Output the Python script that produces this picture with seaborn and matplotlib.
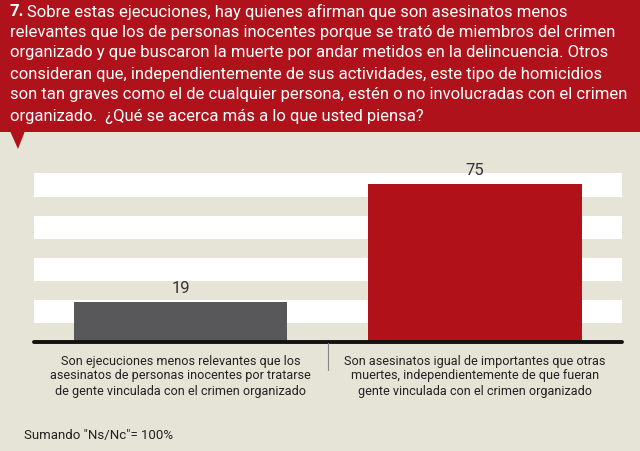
import seaborn as sns
import matplotlib.pyplot as plt
from matplotlib.patches import Rectangle, Polygon

categorias = [
    "Son ejecuciones menos relevantes que los\nasesinatos de personas inocentes por tratarse\nde gente vinculada con el crimen organizado",
    "Son asesinatos igual de importantes que otras\nmuertes, independientemente de que fueran\ngente vinculada con el crimen organizado",
]
valores = [19, 75]
colores = ["#58585a", "#b1121a"]

titulo = [
    "Sobre estas ejecuciones, hay quienes afirman que son asesinatos menos",
    "relevantes que los de personas inocentes porque se trató de miembros del crimen",
    "organizado y que buscaron la muerte por andar metidos en la delincuencia. Otros",
    "consideran que, independientemente de sus actividades, este tipo de homicidios",
    "son tan graves como el de cualquier persona, estén o no involucradas con el crimen",
    "organizado.  ¿Qué se acerca más a lo que usted piensa?",
]
nota = 'Sumando "Ns/Nc"= 100%'

sns.set_style("white")
plt.rcParams["font.family"] = ["Roboto", "DejaVu Sans"]

fondo = "#e6e3d7"
W, H = 640, 451
fig = plt.figure(figsize=(6.4, 4.51), dpi=100, facecolor=fondo)
renderer = fig.canvas.get_renderer()


def ancho(t):
    return t.get_window_extent(renderer).width


# encabezado rojo con pico
fig.patches.append(Rectangle((0, 1 - 132 / H), 1, 132 / H, transform=fig.transFigure,
                             facecolor="#b0121b", edgecolor="none", zorder=0))
fig.patches.append(Polygon([(10 / W, 1 - 131 / H), (25 / W, 1 - 131 / H), (18 / W, 1 - 149 / H)],
                           closed=True, transform=fig.transFigure,
                           facecolor="#b0121b", edgecolor="none", zorder=0))

ys = [12, 33, 53, 74, 95, 116]
lineas = [fig.text(10 / W, 1 - y / H, l, color="white", fontsize=12, va="center")
          for l, y in zip(titulo, ys)]
fs = 12 * 618 / max(ancho(t) for t in lineas[1:])
for t in lineas:
    t.set_fontsize(fs)
num = fig.text(10 / W, 1 - ys[0] / H, "7.", color="white", fontsize=fs, fontweight="bold", va="center")
ext = num.get_window_extent(renderer)
lineas[0].set_x((ext.x1 + 3) / W)

ax = fig.add_axes([33.5 / W, (H - 342) / H, (622 - 33.5) / W, (342 - 173.4) / H])
ax.set_facecolor(fondo)
for lo, hi in [(9, 20), (29, 40), (49, 60), (69, 80)]:
    ax.axhspan(lo, hi, color="white", zorder=0, lw=0)

sns.barplot(x=[0, 1], y=valores, hue=[0, 1], palette=colores, width=0.725,
            legend=False, ax=ax, zorder=2, saturation=1, edgecolor="none", linewidth=0)
for i, v in enumerate(valores):
    ax.text(i, v + 3, str(v), ha="center", va="bottom", fontsize=12, color="#333333")

ax.set_xlim(-0.5, 1.5)
ax.set_ylim(0, 80)
ax.set_xticks([])
ax.set_yticks([])
ax.set_xlabel("")
ax.set_ylabel("")
for s in ax.spines.values():
    s.set_visible(False)
ax.axhline(0, color="#111111", lw=2.8, zorder=3, clip_on=False)

# separador y etiquetas
fig.add_artist(plt.Line2D([328 / W, 328 / W], [1 - 343 / H, 1 - 370 / H], color="#888888", lw=0.8))
etiquetas = []
for i, cat in enumerate(categorias):
    etiquetas.append(ax.annotate(cat, xy=(i, 0), xycoords="data", xytext=(0, -9),
                                 textcoords="offset points", ha="center", va="top",
                                 fontsize=10, color="#222222", linespacing=1.2))
fe = 10 * 262 / ancho(etiquetas[0])
for t in etiquetas:
    t.set_fontsize(fe)

pie = fig.text(24 / W, 1 - 436 / H, nota, fontsize=10, color="#222222", va="center")
pie.set_fontsize(10 * 149 / ancho(pie))

fig.savefig("out.png", dpi=100, facecolor=fondo)
